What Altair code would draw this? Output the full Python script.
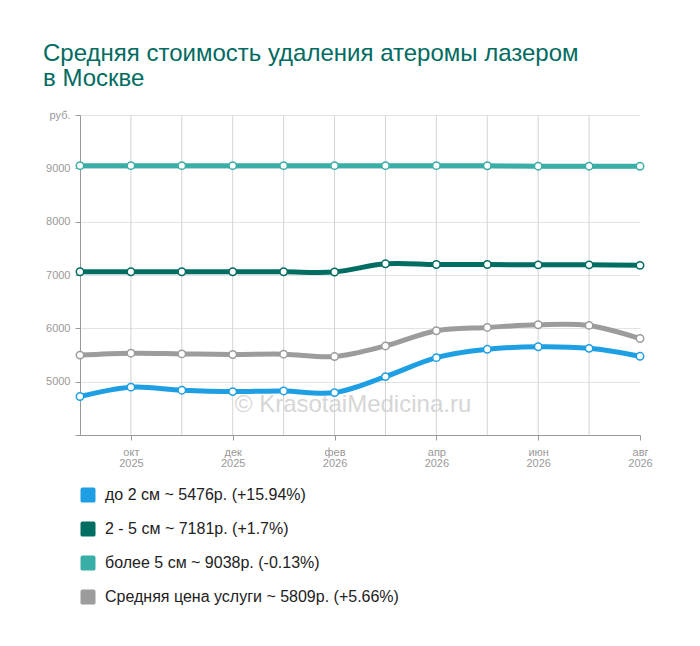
import altair as alt
import pandas as pd

months = ["2025-09", "2025-10", "2025-11", "2025-12", "2026-01", "2026-02",
          "2026-03", "2026-04", "2026-05", "2026-06", "2026-07", "2026-08"]
labeled_months = ["2025-10", "2025-12", "2026-02", "2026-04", "2026-06", "2026-08"]
grid_months = months[1:-1]

series_names = [
    "до 2 см ~ 5476р. (+15.94%)",
    "2 - 5 см ~ 7181р. (+1.7%)",
    "более 5 см ~ 9038р. (-0.13%)",
    "Средняя цена услуги ~ 5809р. (+5.66%)",
]
series_colors = ["#1e9fe3", "#006d63", "#38aea6", "#9c9c9c"]

v_small = [4722, 4897, 4840, 4814, 4826, 4795, 5095, 5450, 5607, 5655, 5625, 5476]
v_mid = [7061, 7061, 7061, 7061, 7061, 7056, 7210, 7197, 7197, 7190, 7190, 7181]
v_large = [9050, 9050, 9050, 9050, 9050, 9050, 9050, 9050, 9048, 9040, 9040, 9038]
v_avg = [5498, 5534, 5521, 5509, 5515, 5471, 5670, 5955, 6017, 6067, 6055, 5809]

y_ticks = [4000, 5000, 6000, 7000, 8000, 9000, 10000]
month_abbr = ["янв", "фев", "мар", "апр", "май", "июн",
              "июл", "авг", "сен", "окт", "ноя", "дек"]
y_unit = "руб."
watermark = "© KrasotaiMedicina.ru"
title_lines = ["Средняя стоимость удаления атеромы лазером", "в Москве"]

rows = []
for name, vals in zip(series_names, [v_small, v_mid, v_large, v_avg]):
    for m, v in zip(months, vals):
        rows.append({"month": m, "series": name, "value": v})
df = pd.DataFrame(rows)
grid_df = pd.DataFrame({"month": grid_months})

FONT = "Liberation Sans"
abbr_js = "[" + ",".join("'%s'" % a for a in month_abbr) + "]"
x_label_expr = "[%s[toNumber(slice(datum.value, 5)) - 1], slice(datum.value, 0, 4)]" % abbr_js
y_label_expr = "datum.value == 10000 ? '%s' : (datum.value == 4000 ? '' : datum.value)" % y_unit

x_scale = alt.Scale(type="point", domain=months, padding=0)
x_enc = alt.X(
    "month:O",
    scale=x_scale,
    axis=alt.Axis(
        values=labeled_months, labelExpr=x_label_expr, title=None, grid=False,
        labelAngle=0, labelAlign="center", labelBaseline="top",
        labelFontSize=11, labelColor="#999999", labelFont=FONT,
        labelLineHeight=11, tickSize=5, tickColor="#999999", domainColor="#999999",
        labelPadding=6,
    ),
)
y_enc = alt.Y(
    "value:Q",
    scale=alt.Scale(domain=[4000, 10000], nice=False, zero=False),
    axis=alt.Axis(
        values=y_ticks, labelExpr=y_label_expr, title=None, grid=True,
        gridColor="#e3e3e3", gridWidth=1, labelFontSize=11, labelColor="#999999",
        labelFont=FONT, tickSize=5, tickColor="#999999", domainColor="#999999",
        labelPadding=5,
    ),
)
color_scale = alt.Scale(domain=series_names, range=series_colors)

rounded_square = ("M -0.75 -1 L 0.75 -1 Q 1 -1 1 -0.75 L 1 0.75 Q 1 1 0.75 1 "
                  "L -0.75 1 Q -1 1 -1 0.75 L -1 -0.75 Q -1 -1 -0.75 -1 Z")

vgrid = alt.Chart(grid_df).mark_rule(color="#d4d4d4", strokeWidth=1).encode(
    x=alt.X("month:O", scale=x_scale)
)

wm = alt.Chart(pd.DataFrame({"t": [watermark]})).mark_text(
    fontSize=24, font=FONT, color="#d6d6d6", align="center", baseline="middle"
).encode(x=alt.value(273), y=alt.value(290), text="t:N")

# tiny filled squares hidden under the point markers; they carry the legend
legend_marks = alt.Chart(df).mark_square(size=4, filled=True, opacity=1).encode(
    x=x_enc,
    y=y_enc,
    color=alt.Color(
        "series:N", scale=color_scale,
        legend=alt.Legend(
            title=None, orient="none", legendX=0, legendY=372, direction="vertical",
            symbolType=rounded_square, symbolSize=225, symbolStrokeWidth=0,
            symbolOpacity=1,
            labelFontSize=16, labelColor="#222222", labelFont=FONT, labelOffset=9,
            rowPadding=18, padding=0, labelLimit=600,
        ),
    ),
)

lines = alt.Chart(df).mark_line(interpolate="cardinal", strokeWidth=5).encode(
    x=x_enc,
    y=y_enc,
    stroke=alt.Stroke("series:N", scale=color_scale, legend=None),
    detail="series:N",
)

points = alt.Chart(df).mark_point(
    filled=False, fill="white", fillOpacity=1, size=55, strokeWidth=1.5, opacity=1
).encode(
    x=x_enc,
    y=y_enc,
    stroke=alt.Stroke("series:N", scale=color_scale, legend=None),
)

chart = alt.layer(vgrid, wm, legend_marks, lines, points).properties(
    width=560,
    height=320,
    autosize=alt.AutoSizeParams(type="none"),
    padding={"left": 72, "top": 107, "right": 52, "bottom": 190},
    title=alt.Title(
        text=title_lines, anchor="start", frame="group", dx=-37, offset=18,
        fontSize=24, font=FONT, fontWeight="normal", color="#006b61", lineHeight=25,
    ),
).configure_view(stroke=None)

chart.save("out.html", embed_options={"renderer": "svg", "actions": False})
